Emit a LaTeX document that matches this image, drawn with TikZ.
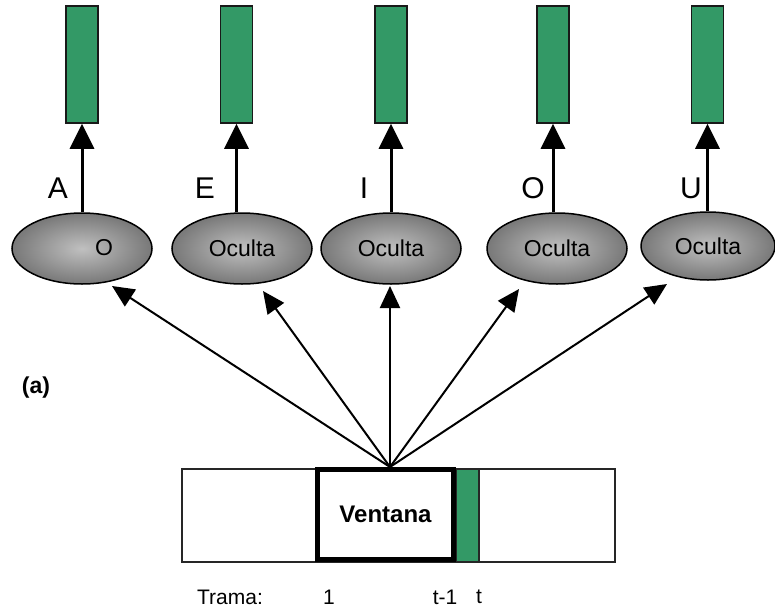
\documentclass[tikz,border=0pt]{standalone}
\usepackage{fontspec}
\setmainfont{Liberation Sans}
\usetikzlibrary{shapes.geometric,arrows.meta}
\definecolor{outgreen}{RGB}{51,153,102}
\definecolor{hidlight}{RGB}{192,192,192}
\definecolor{hiddark}{RGB}{120,120,120}
\tikzset{
  outbox/.style={draw=black!90, line width=1.5pt, fill=outgreen, minimum width=32pt, minimum height=117pt, inner sep=0pt},
  hidunit/.style={ellipse, draw=black, line width=1.5pt, inner color=hidlight, outer color=hiddark, minimum width=140pt, minimum height=71pt, inner sep=0pt, font=\fontsize{23}{26}\selectfont},
  uparrow/.style={line width=3pt, -{Triangle[length=25pt,width=24pt]}},
  fanarrow/.style={line width=2pt, -{Triangle[length=22pt,width=20pt]}},
  vowel/.style={font=\fontsize{30}{34}\selectfont, inner sep=0pt},
  caption/.style={font=\fontsize{21}{24}\selectfont, inner sep=0pt}
}
\begin{document}
\begin{tikzpicture}[x=1pt,y=-1pt]
\useasboundingbox (0,0) rectangle (775,613);

% output units
\node[outbox] (r1) at (82,64.5) {};
\node[outbox] (r2) at (236.5,64.5) {};
\node[outbox] (r3) at (391,64.5) {};
\node[outbox] (r4) at (553,64.5) {};
\node[outbox] (r5) at (707.5,64.5) {};

% hidden units
\node[hidunit] (e1) at (82,248.5) {};
\node[font=\fontsize{23}{26}\selectfont] at (104,248) {O};
\node[hidunit] (e2) at (242,248.5) {Oculta};
\node[hidunit] (e3) at (391,248.5) {Oculta};
\node[hidunit] (e4) at (557,248.5) {Oculta};
\node[hidunit, minimum width=134pt, minimum height=68pt] (e5) at (708,246) {Oculta};

% hidden -> output
\foreach \i in {1,...,5}
  \draw[uparrow] (r\i.south |- e\i.north) -- (r\i.south);

% vowel labels
\node[vowel] at (58,188) {A};
\node[vowel] at (205,188) {E};
\node[vowel] at (364,188) {I};
\node[vowel] at (533,188) {O};
\node[vowel] at (691,188) {U};

% frame strip with window
\node[draw=black!85, line width=1.5pt, minimum width=433pt, minimum height=93pt, inner sep=0pt] (strip) at (398.5,515.5) {};
\node[draw=black!85, line width=1.2pt, fill=outgreen, minimum width=23pt, minimum height=93pt, inner sep=0pt] (cur) at (467.5,515.5) {};
\node[draw=black, line width=5pt, minimum width=136pt, minimum height=90pt, inner sep=0pt, font=\bfseries\fontsize{24}{28}\selectfont] (vent) at (385.5,514) {Ventana};

% window -> hidden units
\coordinate (hub) at (390,467);
\coordinate (t1) at (112,286);
\coordinate (t2) at (263,291);
\coordinate (t3) at (390,286);
\coordinate (t4) at (519,289);
\coordinate (t5) at (667,284);
\foreach \i in {1,...,5}
  \draw[fanarrow] (hub) -- (t\i);

% labels
\node[font=\bfseries\fontsize{23}{26}\selectfont, inner sep=0pt] (lab) at (36,388) {(a)};
\node[caption] (trama) at (230,597) {Trama:};
\node[caption] (n1) at (329,597) {1};
\node[caption] (ntm) at (445,597) {t-1};
\node[caption] (nt) at (479,597) {t};
\end{tikzpicture}
\end{document}
